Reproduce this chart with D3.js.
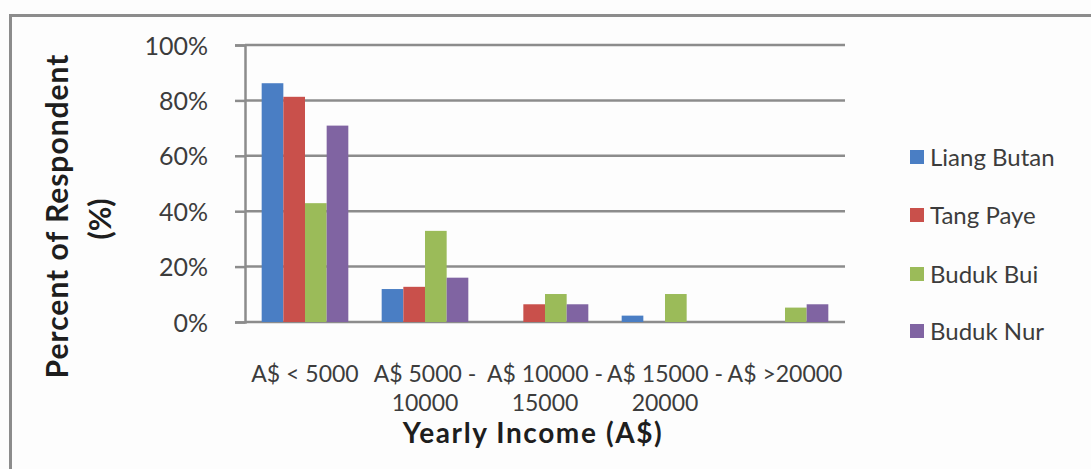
<!DOCTYPE html>
<html>
<head>
<meta charset="utf-8">
<script src="https://cdn.jsdelivr.net/npm/d3@7"></script>
<style>
  html, body { margin: 0; padding: 0; background: #fdfdfd; }
  svg { display: block; }
  text { font-family: Lato, "Open Sans", sans-serif; }
</style>
</head>
<body>
<svg id="chart" width="1091" height="469"></svg>
<script>
// Yearly income of respondents by village
const categories = ["A$ < 5000", "A$ 5000 - 10000", "A$ 10000 - 15000", "A$ 15000 - 20000", "A$ >20000"];
const seriesNames = ["Liang Butan", "Tang Paye", "Buduk Bui", "Buduk Nur"];
const liangButan = [86.2, 11.9, 0, 2.3, 0];
const tangPaye   = [81.3, 12.7, 6.4, 0, 0];
const budukBui   = [42.9, 32.9, 10.1, 10.1, 5.2];
const budukNur   = [70.9, 16.0, 6.4, 0, 6.4];
const yTicks = [0, 20, 40, 60, 80, 100];
const colors = ["#4a7ec4", "#c9504b", "#9bbb59", "#8064a2"];

const seriesValues = [liangButan, tangPaye, budukBui, budukNur];

const svg = d3.select("#chart");
const W = 1091, H = 469;
const plot = { left: 245, right: 845, top: 45, bottom: 322 };

// outer frame (top and left edges only)
svg.append("path")
  .attr("d", `M10.5,${H} L10.5,15.5 L${W},15.5`)
  .attr("fill", "none")
  .attr("stroke", "#8c8c8c")
  .attr("stroke-width", 3);

const x0 = d3.scaleBand().domain(categories).range([plot.left, plot.right]).padding(0);
const x1 = d3.scaleBand().domain(seriesNames).range([0, x0.bandwidth()])
  .paddingInner(0).paddingOuter(0.77);
const y = d3.scaleLinear().domain([0, 100]).range([plot.bottom, plot.top]);

// horizontal gridlines
svg.append("g")
  .selectAll("line")
  .data(yTicks)
  .join("line")
  .attr("x1", plot.left)
  .attr("x2", plot.right)
  .attr("y1", d => y(d))
  .attr("y2", d => y(d))
  .attr("stroke", "#8c8c8c")
  .attr("stroke-width", 2.5);

// y axis with tick marks and percent labels
const yAxis = svg.append("g")
  .attr("transform", `translate(${plot.left},0)`)
  .call(d3.axisLeft(y).tickValues(yTicks).tickSize(10).tickPadding(27)
    .tickFormat(d => d + "%"));
yAxis.select(".domain").attr("stroke", "#8c8c8c").attr("stroke-width", 2.5);
yAxis.selectAll(".tick line").attr("stroke", "#8c8c8c").attr("stroke-width", 2.5);
yAxis.selectAll(".tick text")
  .attr("fill", "#3c3c3c")
  .style("font-size", "25px")
  .attr("dy", "0.36em");

// bars
const groups = svg.append("g")
  .selectAll("g")
  .data(categories)
  .join("g")
  .attr("transform", d => `translate(${x0(d)},0)`);

groups.selectAll("rect")
  .data((c, ci) => seriesNames.map((s, si) => ({ s, si, v: seriesValues[si][ci] })))
  .join("rect")
  .attr("x", d => x1(d.s))
  .attr("width", x1.bandwidth())
  .attr("y", d => y(d.v))
  .attr("height", d => y(0) - y(d.v))
  .attr("fill", d => colors[d.si]);

// x axis category labels (wrapped at the dash)
const xAxis = svg.append("g")
  .attr("transform", `translate(0,${plot.bottom})`)
  .call(d3.axisBottom(x0).tickSize(0).tickFormat(""));
xAxis.select(".domain").remove();

const labelG = svg.append("g");
categories.forEach(c => {
  const parts = c.includes(" - ") ? [c.split(" - ")[0] + " -", c.split(" - ")[1]] : [c];
  const t = labelG.append("text")
    .attr("x", x0(c) + x0.bandwidth() / 2)
    .attr("y", 382)
    .attr("text-anchor", "middle")
    .attr("fill", "#3c3c3c")
    .style("font-size", "23px");
  parts.forEach((p, i) => {
    t.append("tspan")
      .attr("x", x0(c) + x0.bandwidth() / 2)
      .attr("dy", i === 0 ? 0 : 29)
      .text(p);
  });
});

// axis titles
svg.append("text")
  .attr("x", 533)
  .attr("y", 443)
  .attr("text-anchor", "middle")
  .attr("fill", "#1e1e1e")
  .style("font-size", "28px")
  .style("font-weight", "bold")
  .style("letter-spacing", "1.6px")
  .text("Yearly Income (A$)");

svg.append("text")
  .attr("transform", "translate(57,216) rotate(-90)")
  .attr("text-anchor", "middle")
  .attr("dy", "0.35em")
  .attr("fill", "#1e1e1e")
  .style("font-size", "30px")
  .style("font-weight", "bold")
  .style("letter-spacing", "1px")
  .text("Percent of Respondent");

svg.append("text")
  .attr("transform", "translate(100,219) rotate(-90)")
  .attr("text-anchor", "middle")
  .attr("dy", "0.35em")
  .attr("fill", "#1e1e1e")
  .style("font-size", "30px")
  .style("font-weight", "bold")
  .text("(%)");

// legend
const legendY = [157, 215, 274, 331];
const legend = svg.append("g")
  .selectAll("g")
  .data(seriesNames)
  .join("g")
  .attr("transform", (d, i) => `translate(910,${legendY[i]})`);
legend.append("rect")
  .attr("x", 0).attr("y", -7)
  .attr("width", 14).attr("height", 14)
  .attr("fill", (d, i) => colors[i]);
legend.append("text")
  .attr("x", 20)
  .attr("dy", "0.36em")
  .attr("fill", "#3c3c3c")
  .style("font-size", "24px")
  .text(d => d);
</script>
</body>
</html>
